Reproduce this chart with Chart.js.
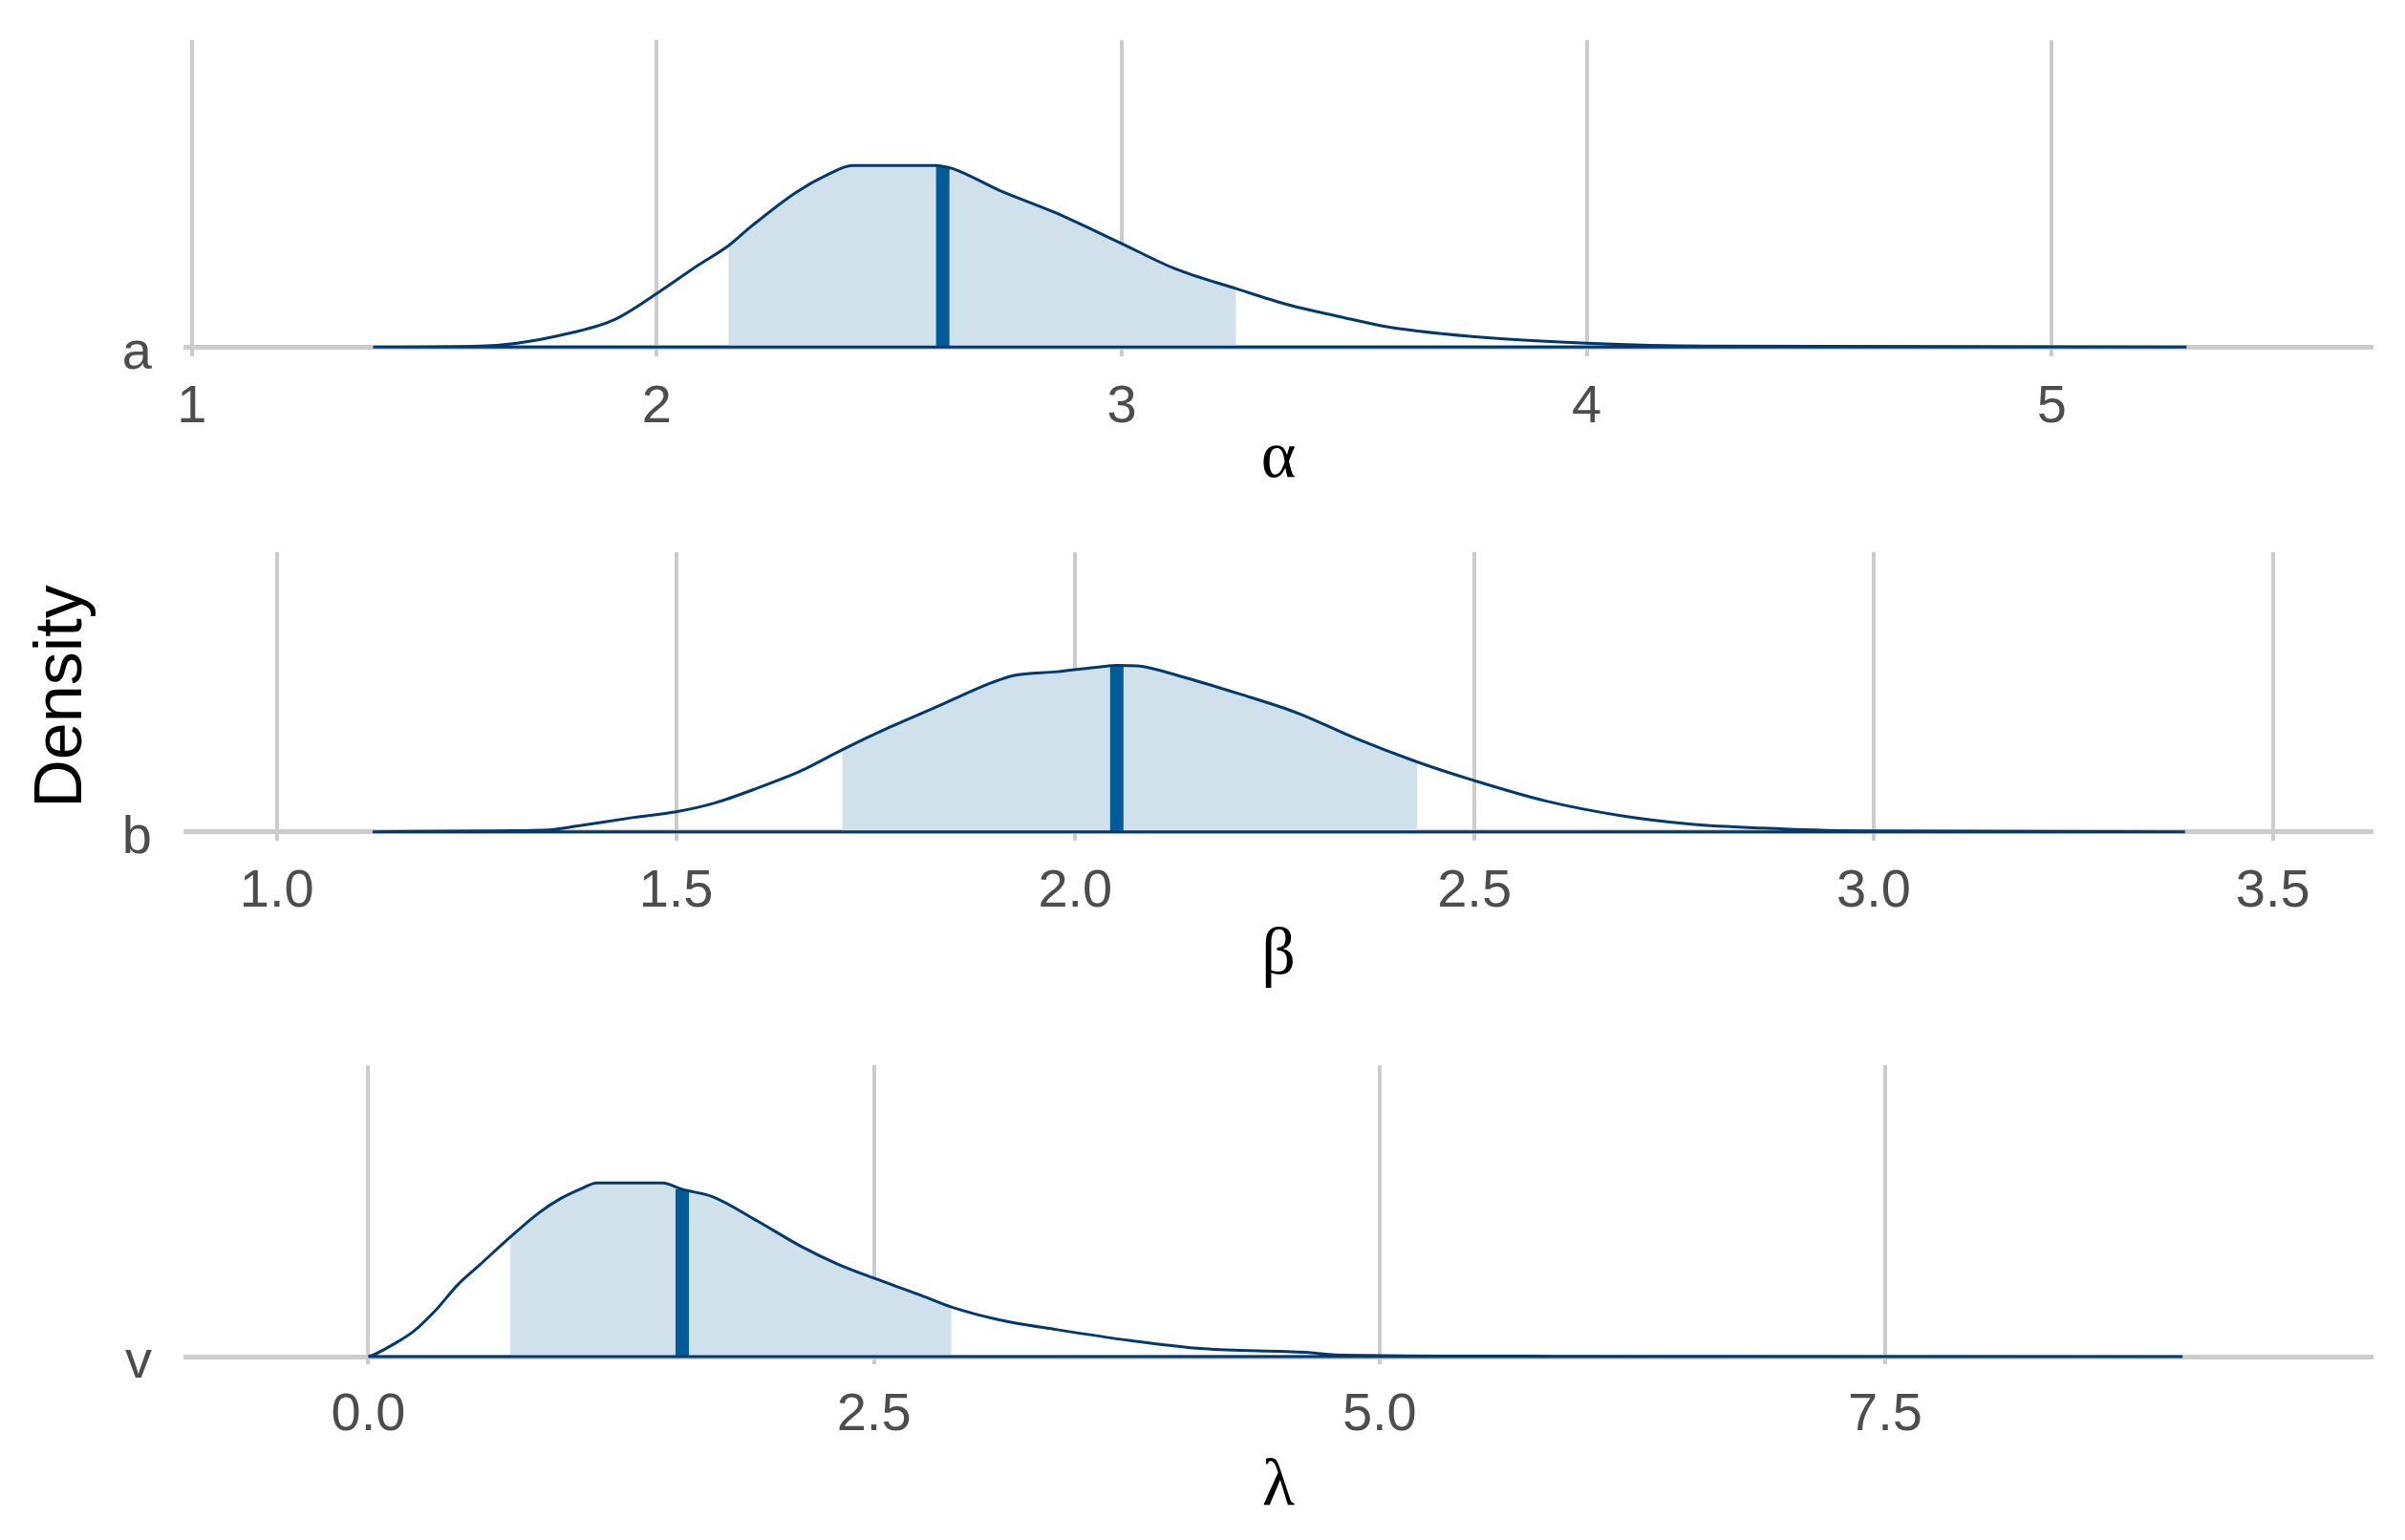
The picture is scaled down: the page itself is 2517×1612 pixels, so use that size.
<!DOCTYPE html>
<html>
<head>
<meta charset="utf-8">
<script src="https://cdn.jsdelivr.net/npm/chart.js@4.4.1/dist/chart.umd.min.js"></script>
<style>
  html, body { margin: 0; padding: 0; background: #fff; }
  #wrap { position: relative; width: 2517px; height: 1612px; }
  canvas { position: absolute; left: 0; }
</style>
</head>
<body>
<div id="wrap">
  <canvas id="alpha" width="2517" height="519" style="top:0px"></canvas>
  <canvas id="beta" width="2517" height="520" style="top:519px"></canvas>
  <canvas id="lambda" width="2517" height="556" style="top:1039px"></canvas>
</div>
<script>
// posterior densities
const alphaX = [1.39, 1.62, 1.70, 1.79, 1.91, 2.00, 2.09, 2.154, 2.205, 2.30, 2.37, 2.42, 2.60, 2.615, 2.64, 2.736, 2.855, 2.996, 3.114, 3.246, 3.36, 3.466, 3.573, 3.78, 4.00, 4.26, 5.29];
const alphaDensity = [0, 0.005, 0.021, 0.062, 0.149, 0.288, 0.442, 0.545, 0.653, 0.833, 0.931, 0.977, 0.977, 0.972, 0.957, 0.844, 0.725, 0.561, 0.422, 0.314, 0.226, 0.165, 0.108, 0.051, 0.021, 0.005, 0];
const alphaInterval = [2.154, 3.246];
const alphaMedian = 2.615;
const alphaMedianDensity = 0.972;
const alphaTicks = [1, 2, 3, 4, 5];
const alphaTickLabels = ['1', '2', '3', '4', '5'];

const betaX = [1.12, 1.28, 1.34, 1.377, 1.447, 1.50, 1.548, 1.602, 1.657, 1.708, 1.767, 1.831, 1.895, 1.922, 1.977, 2.032, 2.052, 2.078, 2.133, 2.206, 2.279, 2.352, 2.428, 2.498, 2.589, 2.681, 2.772, 2.859, 2.98, 3.39];
const betaDensity = [0, 0.008, 0.016, 0.05, 0.122, 0.170, 0.244, 0.371, 0.519, 0.696, 0.885, 1.074, 1.264, 1.325, 1.358, 1.400, 1.412, 1.407, 1.317, 1.169, 1.006, 0.790, 0.593, 0.438, 0.262, 0.140, 0.065, 0.032, 0.008, 0];
const betaInterval = [1.708, 2.428];
const betaMedian = 2.052;
const betaMedianDensity = 1.412;
const betaTicks = [1.0, 1.5, 2.0, 2.5, 3.0, 3.5];
const betaTickLabels = ['1.0', '1.5', '2.0', '2.5', '3.0', '3.5'];

const lambdaX = [0, 0.026, 0.116, 0.225, 0.333, 0.442, 0.55, 0.702, 0.84, 0.948, 1.057, 1.129, 1.455, 1.552, 1.707, 1.925, 2.142, 2.322, 2.503, 2.72, 2.883, 3.118, 3.407, 3.77, 4.13, 4.636, 4.78, 5.88, 8.97];
const lambdaDensity = [0, 0.005, 0.032, 0.072, 0.131, 0.203, 0.259, 0.338, 0.405, 0.446, 0.476, 0.491, 0.491, 0.473, 0.451, 0.383, 0.311, 0.261, 0.221, 0.176, 0.140, 0.104, 0.076, 0.045, 0.022, 0.012, 0.005, 0.001, 0];
const lambdaInterval = [0.702, 2.883];
const lambdaMedian = 1.552;
const lambdaMedianDensity = 0.473;
const lambdaTicks = [0, 2.5, 5.0, 7.5];
const lambdaTickLabels = ['0.0', '2.5', '5.0', '7.5'];

const sans = "'Liberation Sans', Arial, sans-serif";
const serif = "'Liberation Serif', 'Times New Roman', serif";

function makePanel(id, p) {
  const curve = p.x.map((x, i) => ({x: x, y: p.dens[i]}));
  // close the outline along the bottom
  curve.push({x: p.x[0], y: 0});
  const inner = p.x.map((x, i) => ({x: x, y: p.dens[i]}))
    .filter(d => d.x >= p.interval[0] && d.x <= p.interval[1]);

  return new Chart(document.getElementById(id).getContext('2d'), {
    type: 'line',
    data: {
      datasets: [
        {data: curve, borderColor: '#03396c', borderWidth: 3, pointRadius: 0, fill: false, cubicInterpolationMode: 'monotone'},
        {data: [{x: p.median, y: 0}, {x: p.median, y: p.medianDensity}], borderColor: '#005b96', borderWidth: 14, borderCapStyle: 'butt', pointRadius: 0, fill: false},
        {data: inner, borderWidth: 0, borderColor: 'rgba(0,0,0,0)', backgroundColor: '#d1e1ec', pointRadius: 0, fill: 'origin', cubicInterpolationMode: 'monotone'}
      ]
    },
    options: {
      responsive: false,
      animation: false,
      layout: {padding: {top: p.padTop, right: 33, bottom: 0, left: 0}},
      plugins: {legend: {display: false}, tooltip: {enabled: false}},
      scales: {
        x: {
          type: 'linear',
          min: p.xmin,
          max: p.xmax,
          afterBuildTicks: s => { s.ticks = p.ticks.map(v => ({value: v})); },
          afterFit: s => { s.height = p.axisHeight; s.paddingLeft = 0; s.paddingRight = 0; },
          ticks: {
            autoSkip: false, maxRotation: 0, padding: 20,
            color: '#4d4d4d', font: {family: sans, size: 56},
            callback: (v, i) => p.tickLabels[i]
          },
          grid: {color: '#cccccc', lineWidth: 4, drawTicks: false},
          border: {display: false},
          title: {display: true, text: p.title, color: '#000', font: {family: serif, size: 70}, padding: {top: 0, bottom: -4}}
        },
        y: {
          type: 'linear',
          min: p.ymin,
          max: p.ymax,
          afterBuildTicks: s => { s.ticks = [{value: 0}]; },
          afterFit: s => { s.width = 192; s.paddingTop = 0; s.paddingBottom = 0; },
          ticks: {
            padding: 33, color: '#4d4d4d', font: {family: sans, size: 56, lineHeight: 0.25},
            // empty first line pushes the name a little below the baseline
            callback: () => ['', p.name]
          },
          grid: {color: '#cccccc', lineWidth: 5, drawTicks: false},
          border: {display: false},
          title: p.yTitle
            ? {display: true, text: p.yTitle, color: '#000', font: {family: sans, size: 70}, padding: {top: 24, bottom: 0}}
            : {display: false}
        }
      }
    }
  });
}

makePanel('alpha', {
  x: alphaX, dens: alphaDensity, interval: alphaInterval,
  median: alphaMedian, medianDensity: alphaMedianDensity,
  ticks: alphaTicks, tickLabels: alphaTickLabels,
  name: 'a', title: 'α',
  xmin: 0.982, xmax: 5.692, ymin: -0.050, ymax: 1.651,
  padTop: 42, axisHeight: 146
});

makePanel('beta', {
  x: betaX, dens: betaDensity, interval: betaInterval,
  median: betaMedian, medianDensity: betaMedianDensity,
  ticks: betaTicks, tickLabels: betaTickLabels,
  name: 'b', title: 'β', yTitle: 'Density',
  xmin: 0.883, xmax: 3.626, ymin: -0.0755, ymax: 2.372,
  padTop: 59, axisHeight: 159
});

makePanel('lambda', {
  x: lambdaX, dens: lambdaDensity, interval: lambdaInterval,
  median: lambdaMedian, medianDensity: lambdaMedianDensity,
  ticks: lambdaTicks, tickLabels: lambdaTickLabels,
  name: 'v', title: 'λ',
  xmin: -0.914, xmax: 9.914, ymin: -0.0216, ymax: 0.824,
  padTop: 76, axisHeight: 167
});
</script>
</body>
</html>
